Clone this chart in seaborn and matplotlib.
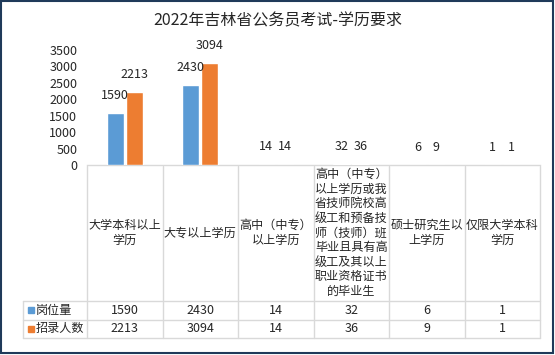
import pandas as pd
import numpy as np
import matplotlib.pyplot as plt
import seaborn as sns
from matplotlib.patches import Rectangle

# chart data
categories = ["大学本科以上学历", "大专以上学历", "高中（中专）以上学历",
              "高中（中专）以上学历或我省技师院校高级工和预备技师（技师）班毕业且具有高级工及其以上职业资格证书的毕业生",
              "硕士研究生以上学历", "仅限大学本科学历"]
series_names = ["岗位量", "招录人数"]
posts = [1590, 2430, 14, 32, 6, 1]
hires = [2213, 3094, 14, 36, 9, 1]
yticks = [0, 500, 1000, 1500, 2000, 2500, 3000, 3500]
title = "2022年吉林省公务员考试-学历要求"
colors = ["#5B9BD5", "#ED7D31"]

df = pd.DataFrame({
    "学历": categories * 2,
    "系列": [series_names[0]] * len(categories) + [series_names[1]] * len(categories),
    "人数": posts + hires,
})

sns.set_style("white")
plt.rcParams['font.family'] = ['Noto Sans CJK SC', 'DejaVu Sans']

W, H = 555, 355
fig = plt.figure(figsize=(W / 100, H / 100), dpi=100)

# pixel layout of the plot area
x_left, x_right = 87, 540
y_axis, y_top = 165, 50
ax = fig.add_axes([x_left / W, (H - y_axis) / H, (x_right - x_left) / W, (y_axis - y_top) / H])

sns.barplot(data=df, x="学历", y="人数", hue="系列", order=categories,
            palette=colors, width=0.5, gap=0.1, saturation=1, legend=False, ax=ax)
for c in ax.containers:
    ax.bar_label(c, fmt="%d", padding=8, fontsize=9)
    for p in c:
        p.set_zorder(3)

ax.set_ylim(0, 3500)
ax.set_xlim(-0.5, len(categories) - 0.5)
ax.set_yticks(yticks)
ax.set_yticklabels([str(t) for t in yticks], fontsize=9)
ax.tick_params(axis="y", length=0, pad=7)
ax.set_xticks([])
ax.set_xlabel("")
ax.set_ylabel("")
for s in ["top", "right", "left"]:
    ax.spines[s].set_visible(False)
ax.spines["bottom"].set_color("#d9d9d9")
ax.spines["bottom"].set_linewidth(1)
ax.spines["bottom"].set_zorder(1)
ax.patch.set_alpha(0)

fig.text(277.5 / W, 1 - 20.5 / H, title, ha="center", va="center", fontsize=11.5)

# data table below the axis
tab = fig.add_axes([0, 0, 1, 1])
tab.set_xlim(0, W)
tab.set_ylim(H, 0)
tab.axis("off")
tab.patch.set_alpha(0)

n = len(categories)
col_w = (x_right - x_left) / n
edges = [x_left + i * col_w for i in range(n + 1)]
y_head, y_r1, y_r2 = 301, 319.5, 338
x_legend = 23
line_c = "#d9d9d9"

for x in edges:
    tab.plot([x, x], [y_axis + 0.5, y_r2], color=line_c, lw=1)
tab.plot([x_legend, x_legend], [y_head, y_r2], color=line_c, lw=1)
for y in [y_head, y_r1, y_r2]:
    tab.plot([x_legend, x_right], [y, y], color=line_c, lw=1)

# wrap category names into lines of six characters
line_h = 14.6
for i, name in enumerate(categories):
    lines = [name[k:k + 6] for k in range(0, len(name), 6)]
    cx = (edges[i] + edges[i + 1]) / 2
    cy = (y_axis + y_head) / 2
    start = cy - (len(lines) - 1) * line_h / 2
    for j, ln in enumerate(lines):
        tab.text(cx, start + j * line_h, ln, ha="center", va="center", fontsize=8.7)

rows = [(y_head + y_r1) / 2, (y_r1 + y_r2) / 2]
for r, (label, vals, col) in enumerate(zip(series_names, [posts, hires], colors)):
    cy = rows[r]
    tab.plot([30.5], [cy], marker="s", markersize=4.5, color=col, linestyle="none")
    tab.text(36, cy, label, ha="left", va="center", fontsize=8.7)
    for i, v in enumerate(vals):
        cx = (edges[i] + edges[i + 1]) / 2
        tab.text(cx, cy, str(v), ha="center", va="center", fontsize=9)

fig.add_artist(Rectangle((1 / W, (H - 352.5) / H), 552 / W, 351.5 / H,
                         transform=fig.transFigure, fill=False, edgecolor="#1f3a5a", lw=1.5))

plt.savefig("out.png", dpi=100)
